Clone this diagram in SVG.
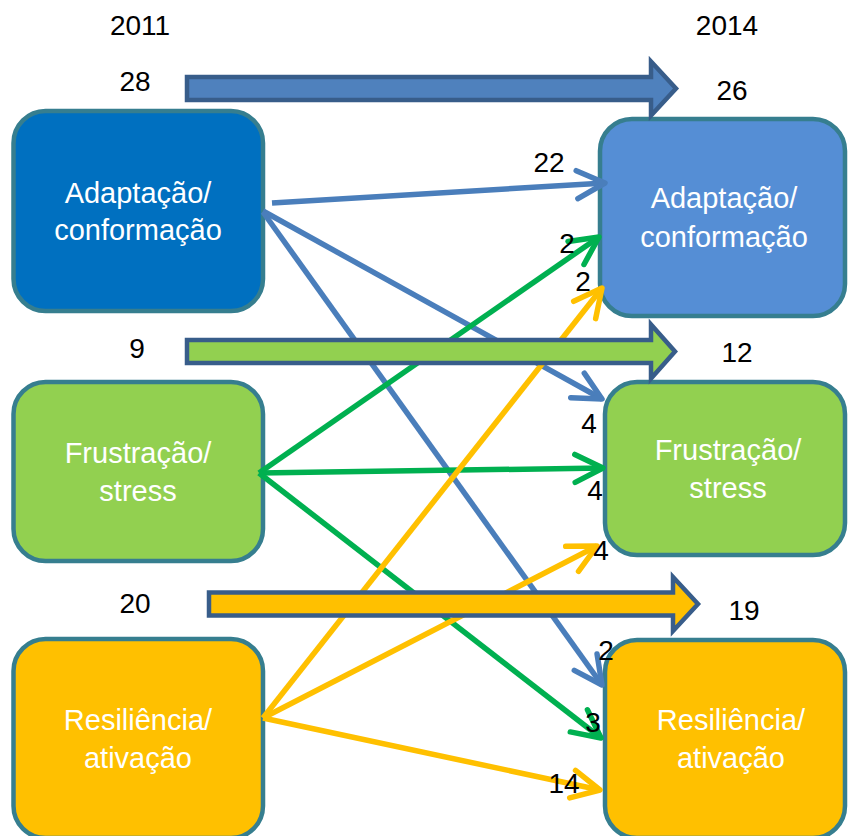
<svg xmlns="http://www.w3.org/2000/svg" width="848" height="836" viewBox="0 0 848 836">
<style>
  .box { stroke: #367e8f; stroke-width: 4.5; }
  .ntxt { font-family: "Liberation Sans", Arial, sans-serif; font-size: 29px; fill: #ffffff; text-anchor: middle; }
  .num { font-family: "Liberation Sans", Arial, sans-serif; font-size: 28px; fill: #000000; text-anchor: middle; }
  .big { stroke: #385d8a; stroke-width: 4.5; stroke-linejoin: miter; }
  .ln { fill: none; stroke-width: 5.5; stroke-linecap: butt; }
  .blue { stroke: #4a7ebb; }
  .green { stroke: #00b050; }
  .yellow { stroke: #ffc000; }
</style>
<defs>
  <marker id="mb" markerUnits="userSpaceOnUse" viewBox="-36 -22 42 44" refX="0" refY="0" markerWidth="42" markerHeight="44" orient="auto" overflow="visible">
    <path d="M -28 -14 L 0 0 L -28 14" fill="none" stroke="#4a7ebb" stroke-width="5.5" stroke-linecap="round" stroke-linejoin="round"/>
  </marker>
  <marker id="mg" markerUnits="userSpaceOnUse" viewBox="-36 -22 42 44" refX="0" refY="0" markerWidth="42" markerHeight="44" orient="auto" overflow="visible">
    <path d="M -28 -14 L 0 0 L -28 14" fill="none" stroke="#00b050" stroke-width="5.5" stroke-linecap="round" stroke-linejoin="round"/>
  </marker>
  <marker id="my" markerUnits="userSpaceOnUse" viewBox="-36 -22 42 44" refX="0" refY="0" markerWidth="42" markerHeight="44" orient="auto" overflow="visible">
    <path d="M -28 -14 L 0 0 L -28 14" fill="none" stroke="#ffc000" stroke-width="5.5" stroke-linecap="round" stroke-linejoin="round"/>
  </marker>
</defs>
<rect x="0" y="0" width="848" height="836" fill="#ffffff"/>

<g id="year-labels">
  <text class="num" x="140" y="35">2011</text>
  <text class="num" x="727" y="35">2014</text>
</g>

<g id="node-adapt-2011">
  <rect class="box" x="13.5" y="111" width="249.5" height="200" rx="32" fill="#0070c0"/>
  <text class="ntxt" x="138" y="203">Adaptação/</text>
  <text class="ntxt" x="138" y="240">conformação</text>
</g>
<g id="node-frust-2011">
  <rect class="box" x="13.5" y="382" width="249.5" height="179" rx="32" fill="#92d050"/>
  <text class="ntxt" x="138" y="463">Frustração/</text>
  <text class="ntxt" x="138" y="501">stress</text>
</g>
<g id="node-resil-2011">
  <rect class="box" x="13.5" y="639" width="249.5" height="199" rx="32" fill="#ffc000"/>
  <text class="ntxt" x="138" y="730">Resiliência/</text>
  <text class="ntxt" x="138" y="768">ativação</text>
</g>
<g id="node-adapt-2014">
  <rect class="box" x="600" y="119" width="245" height="197" rx="32" fill="#558ed5"/>
  <text class="ntxt" x="724" y="208">Adaptação/</text>
  <text class="ntxt" x="724" y="247">conformação</text>
</g>
<g id="node-frust-2014">
  <rect class="box" x="605" y="382" width="240" height="173" rx="32" fill="#92d050"/>
  <text class="ntxt" x="728" y="460">Frustração/</text>
  <text class="ntxt" x="728" y="498">stress</text>
</g>
<g id="node-resil-2014">
  <rect class="box" x="605" y="640" width="240" height="198" rx="32" fill="#ffc000"/>
  <text class="ntxt" x="731" y="730">Resiliência/</text>
  <text class="ntxt" x="731" y="768">ativação</text>
</g>

<g id="connectors">
  <line class="ln blue" x1="272" y1="203" x2="605" y2="183" marker-end="url(#mb)"/>
  <line class="ln blue" x1="263" y1="211" x2="602" y2="399" marker-end="url(#mb)"/>
  <line class="ln blue" x1="263" y1="212" x2="602" y2="685" marker-end="url(#mb)"/>
  <line class="ln green" x1="259" y1="473" x2="599" y2="237" marker-end="url(#mg)"/>
  <line class="ln green" x1="259" y1="473" x2="603" y2="468" marker-end="url(#mg)"/>
  <line class="ln green" x1="259" y1="473" x2="601" y2="738" marker-end="url(#mg)"/>
  <line class="ln yellow" x1="263" y1="718" x2="602" y2="288" marker-end="url(#my)"/>
  <line class="ln yellow" x1="263" y1="718" x2="597" y2="546" marker-end="url(#my)"/>
  <line class="ln yellow" x1="263" y1="718" x2="600" y2="790" marker-end="url(#my)"/>
  <polygon class="big" fill="#4f81bd" points="187,77 651,77 651,61.5 676,88.5 651,115.5 651,100 187,100"/>
  <polygon class="big" fill="#92d050" points="187,340 651,340 651,324.5 675,351.5 651,378.5 651,363 187,363"/>
  <polygon class="big" fill="#ffc000" points="209,592.5 673,592.5 673,577 698,604 673,631 673,615.5 209,615.5"/>
</g>

<g id="value-labels">
  <text class="num" x="135" y="91">28</text>
  <text class="num" x="732" y="100">26</text>
  <text class="num" x="137" y="358">9</text>
  <text class="num" x="737" y="362">12</text>
  <text class="num" x="135" y="613">20</text>
  <text class="num" x="744" y="620">19</text>
  <text class="num" x="549" y="172">22</text>
  <text class="num" x="567" y="253">2</text>
  <text class="num" x="583" y="291">2</text>
  <text class="num" x="589" y="433">4</text>
  <text class="num" x="595" y="500">4</text>
  <text class="num" x="601" y="560">4</text>
  <text class="num" x="606" y="660">2</text>
  <text class="num" x="593" y="732">3</text>
  <text class="num" x="564" y="793">14</text>
</g>
</svg>
